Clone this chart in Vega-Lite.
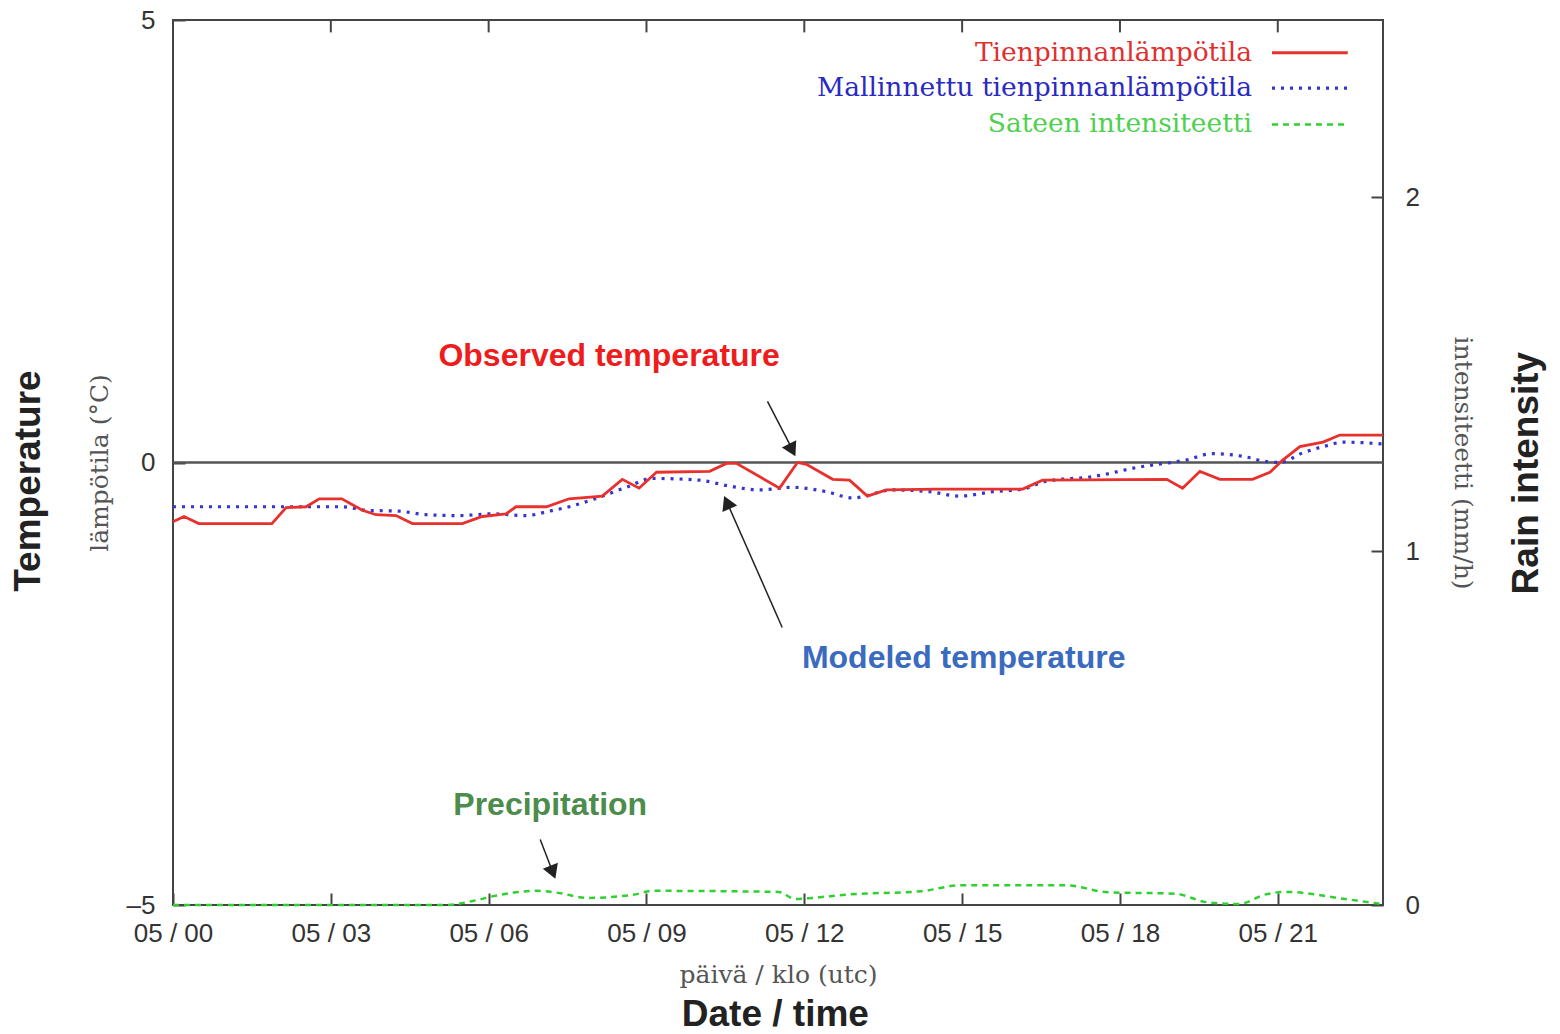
{
  "$schema": "https://vega.github.io/schema/vega-lite/v6.json",
  "width": 1210,
  "height": 885,
  "autosize": "none",
  "padding": {"left": 173, "top": 20, "right": 177, "bottom": 129},
  "background": "white",
  "config": {
    "view": {"stroke": "#444", "strokeWidth": 2},
    "axis": {"grid": false, "domain": false, "tickColor": "#444", "tickWidth": 2, "tickSize": -12, "labelFont": "Liberation Sans", "labelFontSize": 26, "labelColor": "#333", "labelFlush": false, "titleFont": "DejaVu Serif", "titleFontSize": 25, "titleFontWeight": "normal", "titleColor": "#555"}
  },
  "datasets": {
    "obs": [
      {"hour": 0, "temp": -0.67}, {"hour": 0.21, "temp": -0.61}, {"hour": 0.49, "temp": -0.69}, {"hour": 1.88, "temp": -0.69},
      {"hour": 2.15, "temp": -0.51}, {"hour": 2.53, "temp": -0.5}, {"hour": 2.78, "temp": -0.41}, {"hour": 3.21, "temp": -0.41},
      {"hour": 3.6, "temp": -0.54}, {"hour": 3.86, "temp": -0.59}, {"hour": 4.24, "temp": -0.6}, {"hour": 4.55, "temp": -0.69},
      {"hour": 5.5, "temp": -0.69}, {"hour": 5.88, "temp": -0.61}, {"hour": 6.33, "temp": -0.58}, {"hour": 6.52, "temp": -0.5},
      {"hour": 7.1, "temp": -0.5}, {"hour": 7.53, "temp": -0.41}, {"hour": 8.16, "temp": -0.38}, {"hour": 8.54, "temp": -0.19},
      {"hour": 8.86, "temp": -0.29}, {"hour": 9.19, "temp": -0.11}, {"hour": 10.2, "temp": -0.1}, {"hour": 10.52, "temp": -0.01},
      {"hour": 10.71, "temp": -0.01}, {"hour": 11.53, "temp": -0.29}, {"hour": 11.87, "temp": 0}, {"hour": 12.04, "temp": -0.02},
      {"hour": 12.54, "temp": -0.19}, {"hour": 12.86, "temp": -0.2}, {"hour": 13.2, "temp": -0.38}, {"hour": 13.56, "temp": -0.31},
      {"hour": 14.51, "temp": -0.3}, {"hour": 16.15, "temp": -0.3}, {"hour": 16.53, "temp": -0.2}, {"hour": 18.89, "temp": -0.19},
      {"hour": 19.19, "temp": -0.29}, {"hour": 19.52, "temp": -0.1}, {"hour": 19.9, "temp": -0.19}, {"hour": 20.52, "temp": -0.19},
      {"hour": 20.85, "temp": -0.11}, {"hour": 21.1, "temp": 0.03}, {"hour": 21.42, "temp": 0.18}, {"hour": 21.86, "temp": 0.23},
      {"hour": 22.18, "temp": 0.31}, {"hour": 23, "temp": 0.31}
    ],
    "mod": [
      {"hour": 0, "temp": -0.5}, {"hour": 1.96, "temp": -0.5}, {"hour": 3.21, "temp": -0.5}, {"hour": 3.67, "temp": -0.54},
      {"hour": 4.3, "temp": -0.55}, {"hour": 4.81, "temp": -0.59}, {"hour": 5.44, "temp": -0.6}, {"hour": 6.07, "temp": -0.58},
      {"hour": 6.71, "temp": -0.6}, {"hour": 7.15, "temp": -0.55}, {"hour": 7.53, "temp": -0.5}, {"hour": 7.97, "temp": -0.42},
      {"hour": 8.62, "temp": -0.28}, {"hour": 9.11, "temp": -0.18}, {"hour": 10.01, "temp": -0.2}, {"hour": 10.52, "temp": -0.26},
      {"hour": 11.15, "temp": -0.31}, {"hour": 11.77, "temp": -0.28}, {"hour": 12.42, "temp": -0.33}, {"hour": 12.92, "temp": -0.4},
      {"hour": 13.68, "temp": -0.31}, {"hour": 14.38, "temp": -0.33}, {"hour": 14.95, "temp": -0.38}, {"hour": 15.58, "temp": -0.33},
      {"hour": 16.15, "temp": -0.3}, {"hour": 16.61, "temp": -0.21}, {"hour": 17.48, "temp": -0.16}, {"hour": 18.38, "temp": -0.05},
      {"hour": 19.27, "temp": 0.03}, {"hour": 19.76, "temp": 0.1}, {"hour": 20.33, "temp": 0.07}, {"hour": 20.79, "temp": 0.01},
      {"hour": 21.04, "temp": 0}, {"hour": 21.48, "temp": 0.11}, {"hour": 21.93, "temp": 0.19}, {"hour": 22.24, "temp": 0.23},
      {"hour": 23, "temp": 0.21}
    ],
    "rain": [
      {"hour": 0, "rate": 0}, {"hour": 5.17, "rate": 0}, {"hour": 5.78, "rate": 0.014}, {"hour": 6.09, "rate": 0.025},
      {"hour": 6.91, "rate": 0.04}, {"hour": 7.29, "rate": 0.035}, {"hour": 7.89, "rate": 0.02}, {"hour": 8.79, "rate": 0.03},
      {"hour": 9.09, "rate": 0.04}, {"hour": 11.51, "rate": 0.037}, {"hour": 11.83, "rate": 0.017}, {"hour": 12.14, "rate": 0.02},
      {"hour": 12.88, "rate": 0.03}, {"hour": 14.23, "rate": 0.039}, {"hour": 14.99, "rate": 0.056}, {"hour": 16.95, "rate": 0.056},
      {"hour": 17.77, "rate": 0.036}, {"hour": 19.04, "rate": 0.032}, {"hour": 19.65, "rate": 0.008}, {"hour": 20.26, "rate": 0.003},
      {"hour": 20.77, "rate": 0.03}, {"hour": 21.15, "rate": 0.037}, {"hour": 22.28, "rate": 0.017}, {"hour": 22.96, "rate": 0.003}
    ],
    "ticks": [{"hour": 3}, {"hour": 6}, {"hour": 9}, {"hour": 12}, {"hour": 15}, {"hour": 18}, {"hour": 21}]
  },
  "layer": [
    {
      "layer": [
        {
          "data": {"values": [{"zero": 0}]},
          "mark": {"type": "rule", "color": "#555", "strokeWidth": 2.5},
          "encoding": {"y": {"field": "zero", "type": "quantitative"}}
        },
        {
          "data": {"name": "ticks"},
          "mark": {"type": "rule", "color": "#444", "strokeWidth": 2},
          "encoding": {
            "x": {"field": "hour", "type": "quantitative"},
            "y": {"datum": 5},
            "y2": {"datum": 4.86}
          }
        },
        {
          "data": {"name": "mod"},
          "mark": {"type": "line", "color": "#3535d0", "strokeWidth": 3.2, "strokeDash": [3, 6], "interpolate": "monotone"},
          "encoding": {
            "x": {"field": "hour", "type": "quantitative"},
            "y": {"field": "temp", "type": "quantitative"}
          }
        },
        {
          "data": {"name": "obs"},
          "mark": {"type": "line", "color": "#e8302c", "strokeWidth": 2.8},
          "encoding": {
            "x": {"field": "hour", "type": "quantitative", "scale": {"domain": [0, 23], "nice": false, "zero": false},
              "axis": {"values": [0, 3, 6, 9, 12, 15, 18, 21], "labelExpr": "'05 / ' + (datum.value < 10 ? '0' + datum.value : datum.value)", "labelPadding": 27, "title": "päivä / klo (utc)", "titlePadding": 16}},
            "y": {"field": "temp", "type": "quantitative", "scale": {"domain": [-5, 5], "nice": false},
              "axis": {"values": [-5, 0, 5], "labelExpr": "datum.value < 0 ? '–5' : format(datum.value, 'd')", "labelPadding": 30, "title": "lämpötila (°C)", "titlePadding": 14}}
          }
        },
        {
          "data": {"values": [{"a": 1}]},
          "mark": {"type": "rule", "color": "#222", "strokeWidth": 1.5},
          "encoding": {"x": {"datum": 11.3}, "y": {"datum": 0.69}, "x2": {"datum": 11.78}, "y2": {"datum": 0.14}}
        },
        {
          "data": {"values": [{"a": 1}]},
          "mark": {"type": "point", "shape": "triangle-down", "filled": true, "color": "#222", "size": 260, "angle": -27, "opacity": 1},
          "encoding": {"x": {"datum": 11.77}, "y": {"datum": 0.14}}
        },
        {
          "data": {"values": [{"a": 1}]},
          "mark": {"type": "rule", "color": "#222", "strokeWidth": 1.5},
          "encoding": {"x": {"datum": 11.58}, "y": {"datum": -1.864}, "x2": {"datum": 10.53}, "y2": {"datum": -0.45}}
        },
        {
          "data": {"values": [{"a": 1}]},
          "mark": {"type": "point", "shape": "triangle-up", "filled": true, "color": "#222", "size": 260, "angle": -24, "opacity": 1},
          "encoding": {"x": {"datum": 10.53}, "y": {"datum": -0.45}}
        },
        {
          "data": {"values": [{"a": 1}]},
          "mark": {"type": "rule", "color": "#222", "strokeWidth": 1.5},
          "encoding": {"x": {"datum": 6.98}, "y": {"datum": -4.26}, "x2": {"datum": 7.22}, "y2": {"datum": -4.63}}
        },
        {
          "data": {"values": [{"a": 1}]},
          "mark": {"type": "point", "shape": "triangle-down", "filled": true, "color": "#222", "size": 260, "angle": -21, "opacity": 1},
          "encoding": {"x": {"datum": 7.22}, "y": {"datum": -4.63}}
        },
        {
          "data": {"values": [{"label": "Observed temperature"}]},
          "mark": {"type": "text", "font": "Liberation Sans", "fontWeight": "bold", "fontSize": 32, "color": "#ee1c1c", "align": "center", "baseline": "middle"},
          "encoding": {"x": {"datum": 8.29}, "y": {"datum": 1.2}, "text": {"field": "label"}}
        },
        {
          "data": {"values": [{"label": "Modeled temperature"}]},
          "mark": {"type": "text", "font": "Liberation Sans", "fontWeight": "bold", "fontSize": 32, "color": "#3a6bbf", "align": "center", "baseline": "middle"},
          "encoding": {"x": {"datum": 15.03}, "y": {"datum": -2.21}, "text": {"field": "label"}}
        },
        {
          "data": {"values": [{"label": "Precipitation"}]},
          "mark": {"type": "text", "font": "Liberation Sans", "fontWeight": "bold", "fontSize": 32, "color": "#4c8c4c", "align": "center", "baseline": "middle"},
          "encoding": {"x": {"datum": 7.17}, "y": {"datum": -3.87}, "text": {"field": "label"}}
        },
        {
          "data": {"values": [{"label": "Temperature"}]},
          "mark": {"type": "text", "font": "Liberation Sans", "fontWeight": "bold", "fontSize": 37, "color": "#222", "align": "center", "baseline": "middle", "angle": 270},
          "encoding": {"x": {"datum": -2.74}, "y": {"datum": -0.21}, "text": {"field": "label"}}
        },
        {
          "data": {"values": [{"label": "Rain intensity"}]},
          "mark": {"type": "text", "font": "Liberation Sans", "fontWeight": "bold", "fontSize": 37, "color": "#222", "align": "center", "baseline": "middle", "angle": 270},
          "encoding": {"x": {"datum": 25.74}, "y": {"datum": -0.12}, "text": {"field": "label"}}
        },
        {
          "data": {"values": [{"label": "Date / time"}]},
          "mark": {"type": "text", "font": "Liberation Sans", "fontWeight": "bold", "fontSize": 37, "color": "#222", "align": "center", "baseline": "middle"},
          "encoding": {"x": {"datum": 11.45}, "y": {"datum": -6.24}, "text": {"field": "label"}}
        },
        {
          "data": {"values": [{"label": "Tienpinnanlämpötila"}]},
          "mark": {"type": "text", "font": "DejaVu Serif", "fontSize": 26.5, "color": "#e03030", "align": "right", "baseline": "middle"},
          "encoding": {"x": {"datum": 20.51}, "y": {"datum": 4.63}, "text": {"field": "label"}}
        },
        {
          "data": {"values": [{"label": "Mallinnettu tienpinnanlämpötila"}]},
          "mark": {"type": "text", "font": "DejaVu Serif", "fontSize": 26.5, "color": "#2a2ac0", "align": "right", "baseline": "middle"},
          "encoding": {"x": {"datum": 20.51}, "y": {"datum": 4.23}, "text": {"field": "label"}}
        },
        {
          "data": {"values": [{"label": "Sateen intensiteetti"}]},
          "mark": {"type": "text", "font": "DejaVu Serif", "fontSize": 26.5, "color": "#50d050", "align": "right", "baseline": "middle"},
          "encoding": {"x": {"datum": 20.51}, "y": {"datum": 3.82}, "text": {"field": "label"}}
        },
        {
          "data": {"values": [{"a": 1}]},
          "mark": {"type": "rule", "color": "#e8302c", "strokeWidth": 2.8},
          "encoding": {"x": {"datum": 20.89}, "x2": {"datum": 22.33}, "y": {"datum": 4.63}}
        },
        {
          "data": {"values": [{"a": 1}]},
          "mark": {"type": "rule", "color": "#3535d0", "strokeWidth": 3.2, "strokeDash": [3, 6]},
          "encoding": {"x": {"datum": 20.89}, "x2": {"datum": 22.33}, "y": {"datum": 4.23}}
        },
        {
          "data": {"values": [{"a": 1}]},
          "mark": {"type": "rule", "color": "#30d030", "strokeWidth": 2.5, "strokeDash": [6, 5]},
          "encoding": {"x": {"datum": 20.89}, "x2": {"datum": 22.33}, "y": {"datum": 3.82}}
        }
      ]
    },
    {
      "data": {"name": "rain"},
      "mark": {"type": "line", "color": "#30d030", "strokeWidth": 2.5, "strokeDash": [6, 5], "interpolate": "monotone"},
      "encoding": {
        "x": {"field": "hour", "type": "quantitative"},
        "y": {"field": "rate", "type": "quantitative", "scale": {"domain": [0, 2.5], "nice": false},
          "axis": {"orient": "right", "values": [0, 1, 2], "labelPadding": 34, "title": "intensiteetti (mm/h)", "titlePadding": 30}}
      }
    }
  ],
  "resolve": {"scale": {"y": "independent"}}
}
